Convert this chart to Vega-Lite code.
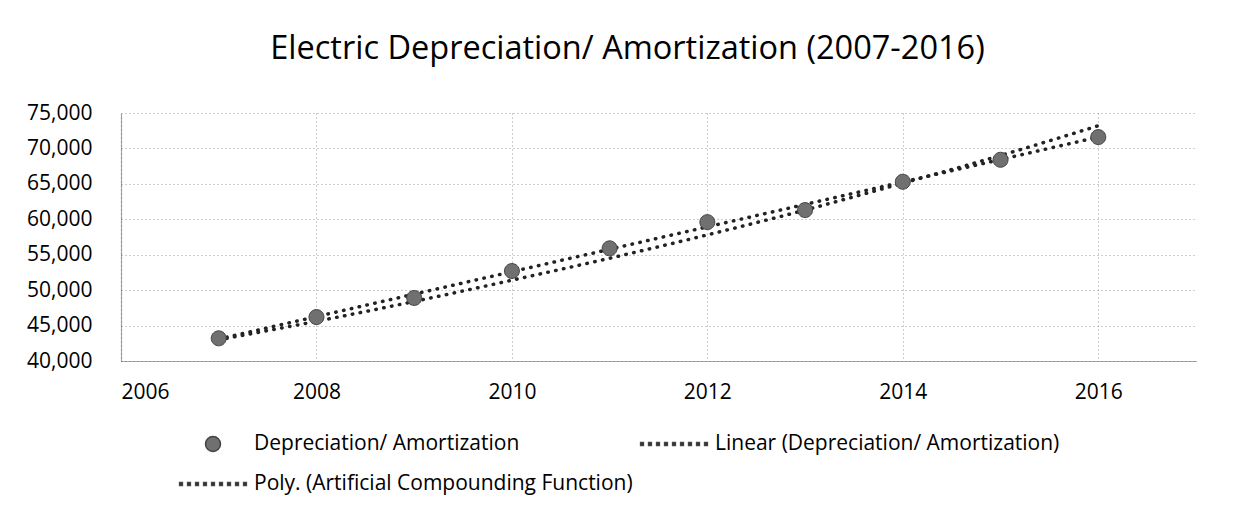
{
  "$schema": "https://vega.github.io/schema/vega-lite/v6.json",
  "width": 1075,
  "height": 248,
  "autosize": {"type": "none"},
  "padding": {"left": 121, "top": 113, "right": 43, "bottom": 157},
  "background": "white",
  "title": {
    "text": "Electric Depreciation/ Amortization (2007-2016)",
    "font": "Open Sans",
    "fontSize": 32.5,
    "fontWeight": "normal",
    "color": "#000000",
    "anchor": "middle",
    "dx": -31,
    "offset": 37
  },
  "datasets": {
    "points": [
      {"year": 2007, "value": 43200, "series": "Depreciation/ Amortization"},
      {"year": 2008, "value": 46200, "series": "Depreciation/ Amortization"},
      {"year": 2009, "value": 48900, "series": "Depreciation/ Amortization"},
      {"year": 2010, "value": 52700, "series": "Depreciation/ Amortization"},
      {"year": 2011, "value": 55900, "series": "Depreciation/ Amortization"},
      {"year": 2012, "value": 59600, "series": "Depreciation/ Amortization"},
      {"year": 2013, "value": 61300, "series": "Depreciation/ Amortization"},
      {"year": 2014, "value": 65300, "series": "Depreciation/ Amortization"},
      {"year": 2015, "value": 68400, "series": "Depreciation/ Amortization"},
      {"year": 2016, "value": 71600, "series": "Depreciation/ Amortization"}
    ],
    "trend": [
      {"year": 2007, "value": 43100, "series": "Linear (Depreciation/ Amortization)"},
      {"year": 2016, "value": 71600, "series": "Linear (Depreciation/ Amortization)"},
      {"year": 2007, "value": 43000, "series": "Poly. (Artificial Compounding Function)"},
      {"year": 2008, "value": 45600, "series": "Poly. (Artificial Compounding Function)"},
      {"year": 2009, "value": 48400, "series": "Poly. (Artificial Compounding Function)"},
      {"year": 2010, "value": 51400, "series": "Poly. (Artificial Compounding Function)"},
      {"year": 2011, "value": 54500, "series": "Poly. (Artificial Compounding Function)"},
      {"year": 2012, "value": 57800, "series": "Poly. (Artificial Compounding Function)"},
      {"year": 2013, "value": 61300, "series": "Poly. (Artificial Compounding Function)"},
      {"year": 2014, "value": 65100, "series": "Poly. (Artificial Compounding Function)"},
      {"year": 2015, "value": 69000, "series": "Poly. (Artificial Compounding Function)"},
      {"year": 2016, "value": 73200, "series": "Poly. (Artificial Compounding Function)"}
    ]
  },
  "encoding": {
    "x": {
      "field": "year",
      "type": "quantitative",
      "scale": {"domain": [2006, 2017], "nice": false, "zero": false},
      "axis": {"values": [2006, 2008, 2010, 2012, 2014, 2016], "format": "d", "title": null}
    },
    "y": {
      "field": "value",
      "type": "quantitative",
      "scale": {"domain": [40000, 75000], "nice": false, "zero": false},
      "axis": {"values": [40000, 45000, 50000, 55000, 60000, 65000, 70000, 75000], "format": ",d", "title": null}
    }
  },
  "layer": [
    {
      "data": {"name": "trend"},
      "mark": {
        "type": "line",
        "strokeDash": [0.5, 7.5],
        "strokeCap": "round",
        "strokeWidth": 3.5,
        "color": "#222222",
        "interpolate": "monotone"
      },
      "encoding": {"detail": {"field": "series", "type": "nominal"}}
    },
    {
      "data": {"name": "points"},
      "mark": {"type": "point", "filled": true, "opacity": 1, "stroke": "#444444", "strokeWidth": 1},
      "encoding": {
        "size": {"value": 4900},
        "color": {
          "field": "series",
          "type": "nominal",
          "scale": {
            "domain": ["Depreciation/ Amortization", "Linear (Depreciation/ Amortization)", "Poly. (Artificial Compounding Function)"],
            "range": ["#707070", "#222222", "#222222"]
          },
          "legend": {
            "title": null,
            "orient": "none",
            "direction": "horizontal",
            "legendX": 56,
            "legendY": 316,
            "columns": 2,
            "symbolSize": 4900,
            "clipHeight": 30,
            "labelFont": "Open Sans",
            "labelFontSize": 21,
            "labelColor": "#000000",
            "labelOffset": 5,
            "labelLimit": 1000,
            "columnPadding": 5,
            "rowPadding": 10,
            "padding": 0
          }
        },
        "shape": {
          "field": "series",
          "type": "nominal",
          "scale": {
            "domain": ["Depreciation/ Amortization", "Linear (Depreciation/ Amortization)", "Poly. (Artificial Compounding Function)"],
            "range": [
              "M-0.214,0A0.214,0.214,0,1,0,0.214,0A0.214,0.214,0,1,0,-0.214,0Z",
              "M-0.954,-0.04h0.08v0.08h-0.08ZM-0.726,-0.04h0.08v0.08h-0.08ZM-0.497,-0.04h0.08v0.08h-0.08ZM-0.269,-0.04h0.08v0.08h-0.08ZM-0.04,-0.04h0.08v0.08h-0.08ZM0.189,-0.04h0.08v0.08h-0.08ZM0.417,-0.04h0.08v0.08h-0.08ZM0.646,-0.04h0.08v0.08h-0.08ZM0.874,-0.04h0.08v0.08h-0.08Z",
              "M-0.954,-0.04h0.08v0.08h-0.08ZM-0.726,-0.04h0.08v0.08h-0.08ZM-0.497,-0.04h0.08v0.08h-0.08ZM-0.269,-0.04h0.08v0.08h-0.08ZM-0.04,-0.04h0.08v0.08h-0.08ZM0.189,-0.04h0.08v0.08h-0.08ZM0.417,-0.04h0.08v0.08h-0.08ZM0.646,-0.04h0.08v0.08h-0.08ZM0.874,-0.04h0.08v0.08h-0.08Z"
            ]
          },
          "legend": {
            "title": null,
            "orient": "none",
            "direction": "horizontal",
            "legendX": 56,
            "legendY": 316,
            "columns": 2,
            "symbolSize": 4900,
            "clipHeight": 30,
            "labelFont": "Open Sans",
            "labelFontSize": 21,
            "labelColor": "#000000",
            "labelOffset": 5,
            "labelLimit": 1000,
            "columnPadding": 5,
            "rowPadding": 10,
            "padding": 0
          }
        }
      }
    }
  ],
  "config": {
    "view": {"stroke": null},
    "axis": {
      "labelFont": "Open Sans",
      "labelFontSize": 21,
      "labelColor": "#000000",
      "ticks": false,
      "grid": true,
      "gridColor": "#9a9a9a",
      "gridDash": [1, 3],
      "gridWidth": 1,
      "domainColor": "#555555",
      "domainDash": [1, 1],
      "domainWidth": 1.2
    },
    "axisX": {"labelPadding": 20},
    "axisY": {"labelPadding": 29}
  }
}
